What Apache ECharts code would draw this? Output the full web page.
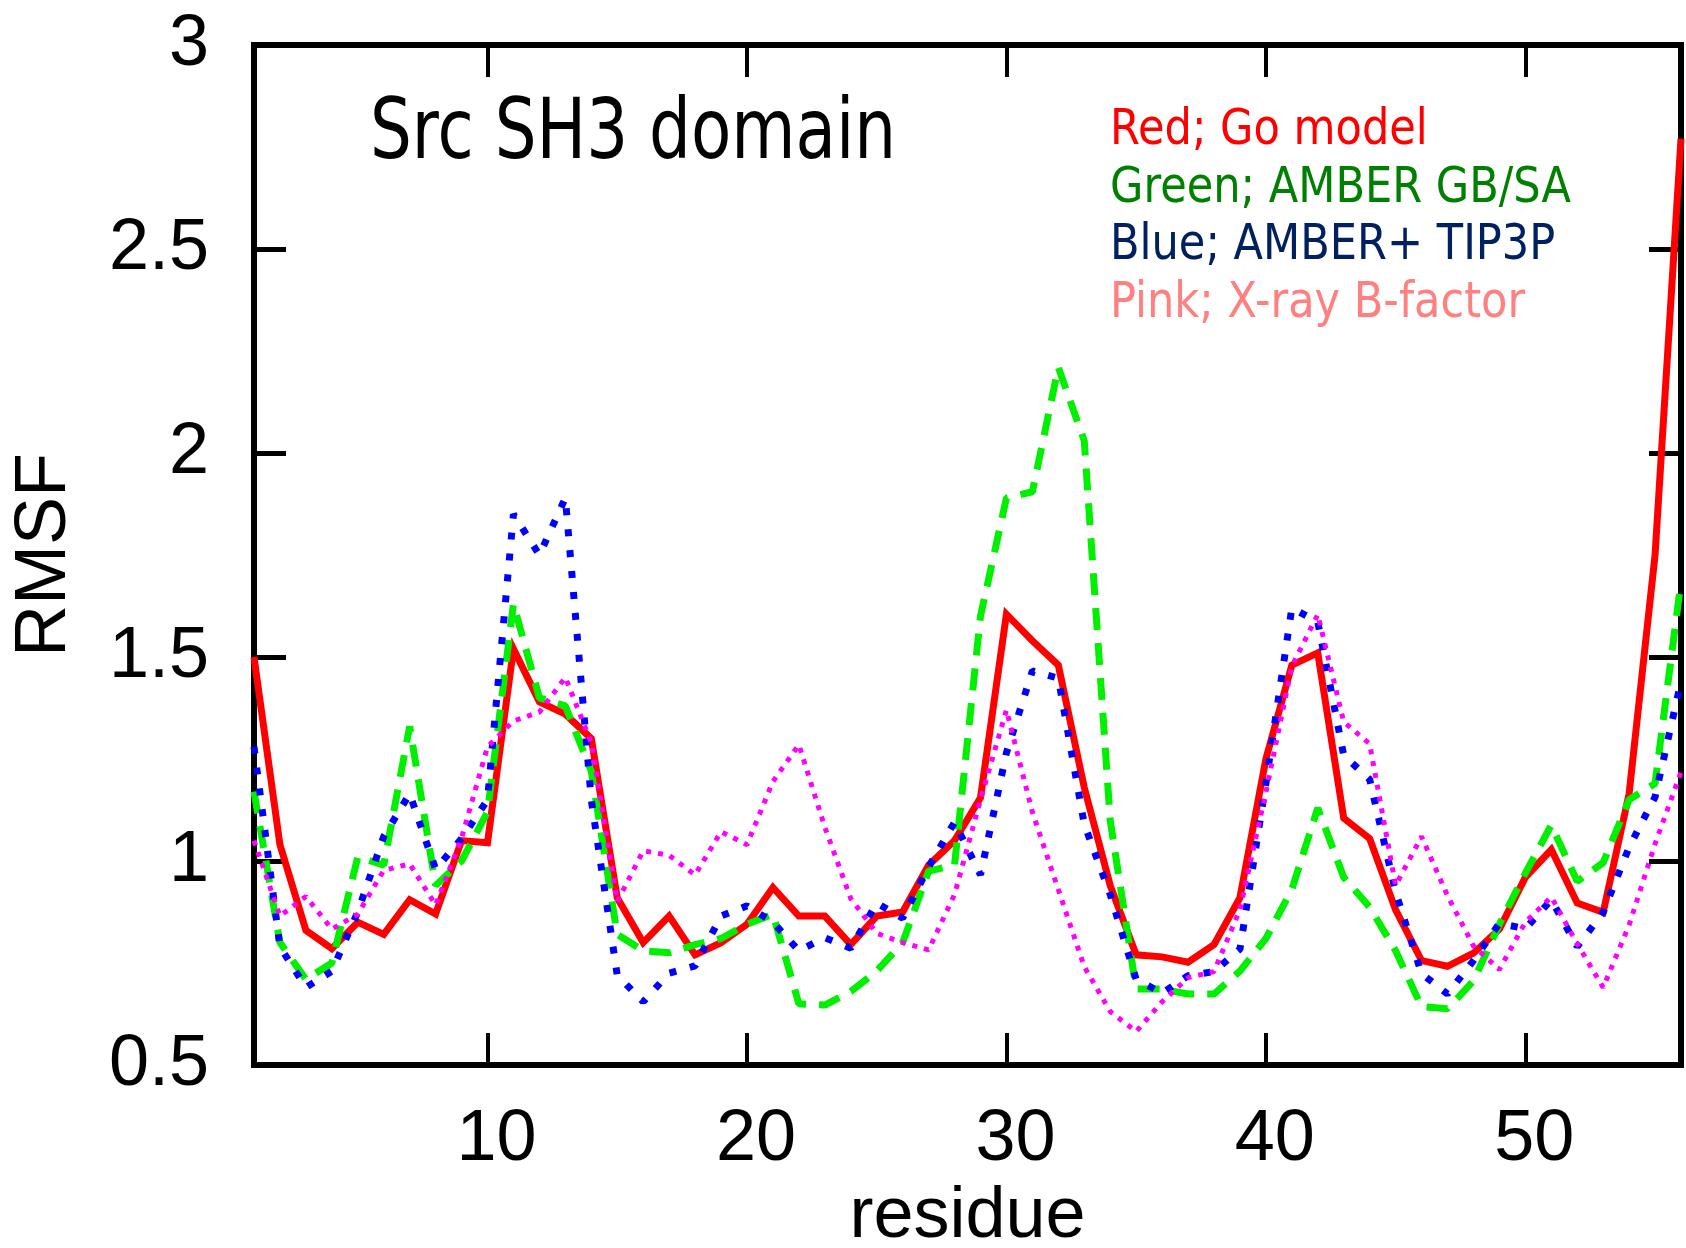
<!DOCTYPE html>
<html>
<head>
<meta charset="utf-8">
<script src="https://cdn.jsdelivr.net/npm/echarts@6/dist/echarts.min.js"></script>
<style>
html,body{margin:0;padding:0;background:#ffffff;}
#chart{width:1686px;height:1248px;}
</style>
</head>
<body>
<div id="chart"></div>
<script>
// ---- data ----
const residues = [1,2,3,4,5,6,7,8,9,10,11,12,13,14,15,16,17,18,19,20,21,22,23,24,25,26,27,28,29,30,31,32,33,34,35,36,37,38,39,40,41,42,43,44,45,46,47,48,49,50,51,52,53,54,55,56];

const goModel = [1.50,1.04,0.83,0.785,0.85,0.82,0.905,0.87,1.05,1.045,1.52,1.39,1.36,1.30,0.91,0.80,0.865,0.77,0.80,0.845,0.935,0.865,0.865,0.795,0.865,0.875,0.99,1.05,1.155,1.605,1.54,1.48,1.18,0.94,0.77,0.765,0.752,0.795,0.91,1.25,1.48,1.51,1.105,1.055,0.88,0.756,0.742,0.774,0.833,0.96,1.028,0.897,0.874,1.165,1.75,2.77];

const amberGBSA = [1.17,0.80,0.71,0.75,1.01,0.99,1.33,0.94,1.00,1.12,1.63,1.40,1.38,1.22,0.82,0.78,0.775,0.795,0.81,0.845,0.87,0.65,0.647,0.68,0.73,0.80,0.975,0.99,1.60,1.89,1.905,2.21,2.03,1.10,0.686,0.686,0.674,0.674,0.73,0.81,0.93,1.13,0.96,0.887,0.78,0.643,0.638,0.706,0.845,0.97,1.088,0.95,0.996,1.15,1.19,1.685];

const amberTIP3P = [1.28,0.79,0.69,0.73,0.875,1.06,1.165,0.98,1.055,1.15,1.85,1.75,1.89,1.15,0.72,0.655,0.725,0.743,0.865,0.89,0.85,0.78,0.812,0.786,0.897,0.86,0.985,1.095,0.966,1.265,1.466,1.448,1.09,0.918,0.71,0.676,0.719,0.729,0.784,1.19,1.62,1.586,1.259,1.20,0.924,0.724,0.674,0.756,0.847,0.834,0.905,0.79,0.874,1.034,1.157,1.44];

const xrayBfactor = [1.05,0.865,0.913,0.833,0.87,0.977,0.993,0.892,1.056,1.28,1.343,1.365,1.45,1.29,0.90,1.025,1.014,0.966,1.072,1.04,1.195,1.285,1.083,0.908,0.823,0.80,0.782,0.918,1.15,1.37,1.12,0.93,0.741,0.631,0.582,0.655,0.714,0.729,0.881,1.168,1.477,1.604,1.341,1.287,0.94,1.06,0.915,0.792,0.734,0.85,0.912,0.797,0.69,0.843,1.042,1.218];

const xTicks = [10,20,30,40,50];
const xRange = [1,56];
const yRange = [0.5,3];
const yStep = 0.5;

const titleText = 'Src SH3 domain';
const legendLabels = ['Red; Go model','Green; AMBER GB/SA','Blue; AMBER+ TIP3P','Pink; X-ray B-factor'];
const xName = 'residue';
const yName = 'RMSF';

// ---- chart ----
const chart = echarts.init(document.getElementById('chart'), null, {renderer:'canvas'});
const pairs = vals => residues.map((r,i)=>[r, vals[i]]);
const tickFont = '"Liberation Sans", Arial, sans-serif';
const textFont = '"DejaVu Sans", Verdana, sans-serif';

const legendColors = ['#ff0000','#008000','#002060','#ff8080'];
const legendY = [131, 189, 246, 304];

const graphics = [
  {type:'text', x:370, y:136, scaleX:0.785, scaleY:1, z:10,
   style:{text:titleText, font:'84px ' + textFont, fill:'#000', textAlign:'left', textVerticalAlign:'middle', align:'left', verticalAlign:'middle'}}
];
legendLabels.forEach((t,i)=>{
  graphics.push({type:'text', x:1110, y:legendY[i], scaleX:0.862, scaleY:1, z:10,
    style:{text:t, font:'50px ' + textFont, fill:legendColors[i], textAlign:'left', textVerticalAlign:'middle', align:'left', verticalAlign:'middle'}});
});

const axisLineStyle = {color:'#000', width:6, cap:'square'};

const option = {
  animation:false,
  backgroundColor:'#ffffff',
  grid:{left:254, right:5, top:45, bottom:183, containLabel:false, outerBoundsMode:'none'},
  xAxis:[
    {type:'value', min:xRange[0], max:xRange[1], position:'bottom',
     axisLine:{show:true, onZero:false, lineStyle:axisLineStyle},
     axisTick:{show:true, inside:true, length:32, customValues:xTicks, lineStyle:{color:'#000', width:4}},
     axisLabel:{show:true, customValues:xTicks, fontSize:72, fontFamily:tickFont, color:'#000', margin:39, padding:[0,0,0,18]},
     splitLine:{show:false},
     name:xName, nameLocation:'middle', nameGap:108,
     nameTextStyle:{fontSize:72, fontFamily:tickFont, color:'#000'}},
    {type:'value', min:xRange[0], max:xRange[1], position:'top',
     axisLine:{show:true, onZero:false, lineStyle:axisLineStyle},
     axisTick:{show:true, inside:true, length:32, customValues:xTicks, lineStyle:{color:'#000', width:4}},
     axisLabel:{show:false}, splitLine:{show:false}}
  ],
  yAxis:[
    {type:'value', min:yRange[0], max:yRange[1], interval:yStep, position:'left',
     axisLine:{show:true, onZero:false, lineStyle:axisLineStyle},
     axisTick:{show:true, inside:true, length:32, lineStyle:{color:'#000', width:5}},
     axisLabel:{show:true, fontSize:72, fontFamily:tickFont, color:'#000', margin:45},
     splitLine:{show:false},
     name:yName, nameLocation:'middle', nameGap:173,
     nameTextStyle:{fontSize:72, fontFamily:tickFont, color:'#000'}},
    {type:'value', min:yRange[0], max:yRange[1], interval:yStep, position:'right',
     axisLine:{show:true, onZero:false, lineStyle:axisLineStyle},
     axisTick:{show:true, inside:true, length:32, lineStyle:{color:'#000', width:5}},
     axisLabel:{show:false}, splitLine:{show:false}}
  ],
  series:[
    {name:legendLabels[0], type:'line', data:pairs(goModel), showSymbol:false, symbol:'none', z:3,
     lineStyle:{color:'#ff0000', width:7, type:'solid', join:'miter'}},
    {name:legendLabels[1], type:'line', data:pairs(amberGBSA), showSymbol:false, symbol:'none', z:4,
     lineStyle:{color:'#00f000', width:7, type:[22,13]}},
    {name:legendLabels[2], type:'line', data:pairs(amberTIP3P), showSymbol:false, symbol:'none', z:5,
     lineStyle:{color:'#0000ff', width:7, type:[7,14]}},
    {name:legendLabels[3], type:'line', data:pairs(xrayBfactor), showSymbol:false, symbol:'none', z:6,
     lineStyle:{color:'#ff00ff', width:5, type:[5,7]}}
  ],
  graphic:graphics
};
chart.setOption(option);
</script>
</body>
</html>
